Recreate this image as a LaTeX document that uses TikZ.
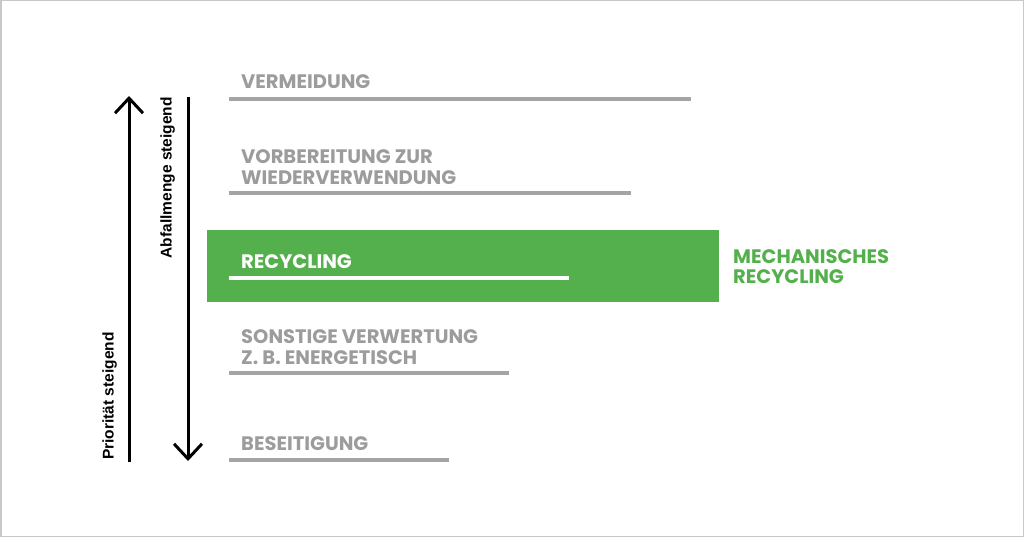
\documentclass[tikz,border=0pt]{standalone}
\usepackage{fontspec}
\newfontfamily\pop{Poppins}[UprightFont=*-Bold, BoldFont=*-Bold]
\newfontfamily\arl{Liberation Sans}
\usetikzlibrary{arrows.meta}
\definecolor{wgreen}{HTML}{54B04C}
\definecolor{wgray}{HTML}{A4A4A4}
\definecolor{wtext}{HTML}{9C9C9C}
\definecolor{wborder}{HTML}{C8C8C8}
\begin{document}
\begin{tikzpicture}[x=1pt,y=-1pt,
  lvl/.style={anchor=base west, inner sep=0pt, font=\pop\fontsize{19.5}{21}\selectfont, text=wtext, align=left},
  bar/.style={draw=wgray, line width=4pt},
  ax/.style={line width=3pt, -{Straight Barb[length=15pt,width=28pt,line width=3pt]}},
  axlabel/.style={inner sep=0pt, font=\arl\bfseries\fontsize{15.5}{17}\selectfont, rotate=90}]
\useasboundingbox (0,0) rectangle (1024,537);
\draw[wborder, line width=1.5pt] (0.75,0.75) rectangle (1023.25,536.25);
% green band
\fill[wgreen] (207,230) rectangle (719,302);
% levels
\node[lvl] (t1) at (241,88.5) {VERMEIDUNG};
\coordinate (a1) at (229,99); \coordinate (b1) at (691,99);
\draw[bar] (a1) -- (b1);
\node[lvl] (t2) at (241,184.5) {VORBEREITUNG ZUR\\WIEDERVERWENDUNG};
\coordinate (a2) at (229,193); \coordinate (b2) at (631,193);
\draw[bar] (a2) -- (b2);
\node[lvl, text=white] (t3) at (241,268) {RECYCLING};
\coordinate (a3) at (229,278); \coordinate (b3) at (569,278);
\draw[bar, draw=white] (a3) -- (b3);
\node[lvl] (t4) at (241,364) {SONSTIGE VERWERTUNG\\Z. B. ENERGETISCH};
\coordinate (a4) at (229,373); \coordinate (b4) at (509,373);
\draw[bar] (a4) -- (b4);
\node[lvl] (t5) at (241,450.5) {BESEITIGUNG};
\coordinate (a5) at (229,460); \coordinate (b5) at (449,460);
\draw[bar] (a5) -- (b5);
\node[lvl, text=wgreen, font=\pop\fontsize{19.5}{20}\selectfont] (mr) at (733,283) {MECHANISCHES\\RECYCLING};
% axes
\coordinate (p0) at (129,462); \coordinate (p1) at (129,96);
\draw[ax] (p0) -- (p1);
\coordinate (q0) at (188,97); \coordinate (q1) at (188,461);
\draw[ax] (q0) -- (q1);
\node[axlabel, anchor=south west] (pl) at (117,460) {Priorität steigend};
\node[axlabel, anchor=south east] (al) at (175,97) {Abfallmenge steigend};
\end{tikzpicture}
\end{document}
